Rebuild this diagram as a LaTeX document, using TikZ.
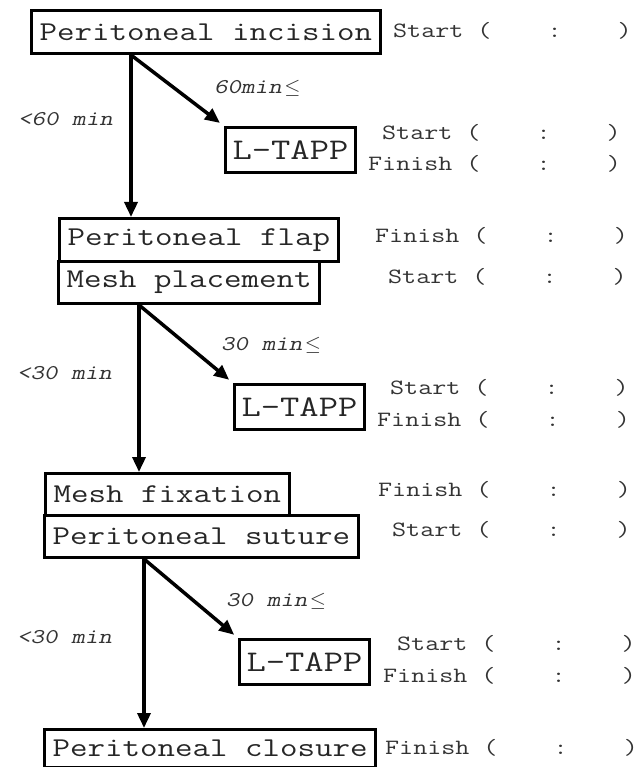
\documentclass[tikz,border=0pt]{standalone}
\usepackage{fontspec}
\newfontfamily\cour[FakeStretch=1.25]{Latin Modern Mono}
\newfontfamily\courobl[FakeStretch=1.25,FakeSlant=0.21]{Latin Modern Mono}
\usetikzlibrary{arrows.meta}
\newcommand{\leqsym}{\kern2.5pt$\leq$}
\begin{document}
\begin{tikzpicture}[x=1pt,y=-1pt,
  stage/.style={draw, line width=3pt, anchor=north west, inner xsep=8pt, inner ysep=0pt,
    minimum height=43pt, font=\cour\fontsize{27.2}{27.2}\selectfont, text=black!85},
  ltapp/.style={stage, minimum height=45pt, inner xsep=7pt, font=\cour\fontsize{30}{30}\selectfont},
  timelbl/.style={anchor=base west, inner sep=0pt, font=\cour\fontsize{21.8}{21.8}\selectfont, text=black!80},
  durlbl/.style={anchor=base west, inner sep=0pt, font=\courobl\fontsize{21}{21}\selectfont, text=black!80},
  arr/.style={line width=3.5pt, -{Triangle[length=15pt,width=13pt]}}
]
\useasboundingbox (0,0) rectangle (642,767);

% boxes
\node[stage] (inc) at (30,9) {Peritoneal incision};
\node[ltapp] (t1) at (224,126) {L-TAPP};
\node[stage] (flap) at (58,217) {Peritoneal flap};
\node[stage, minimum height=42pt] (place) at (57,260) {Mesh placement};
\node[ltapp] (t2) at (233,383) {L-TAPP};
\node[stage, minimum height=42pt] (fix) at (44,472) {Mesh fixation};
\node[stage, minimum height=42pt] (sut) at (43,514) {Peritoneal suture};
\node[ltapp] (t3) at (238,638) {L-TAPP};
\node[stage, minimum height=38pt] (clo) at (43,728) {Peritoneal closure};

% time labels
\node[timelbl] (r1) at (393,38) {Start~(~~~~:~~~~)};
\node[timelbl] (r2) at (382,140) {Start~(~~~~:~~~~)};
\node[timelbl] (r3) at (368,171) {Finish~(~~~~:~~~~)};
\node[timelbl] (r4) at (375,242) {Finish~(~~~~:~~~~)};
\node[timelbl] (r5) at (388,283) {Start~(~~~~:~~~~)};
\node[timelbl] (r6) at (390,394) {Start~(~~~~:~~~~)};
\node[timelbl] (r7) at (377,426) {Finish~(~~~~:~~~~)};
\node[timelbl] (r8) at (378,496) {Finish~(~~~~:~~~~)};
\node[timelbl] (r9) at (392,536) {Start~(~~~~:~~~~)};
\node[timelbl] (r10) at (397,650) {Start~(~~~~:~~~~)};
\node[timelbl] (r11) at (383,682) {Finish~(~~~~:~~~~)};
\node[timelbl] (r12) at (385,754) {Finish~(~~~~:~~~~)};

% duration labels
\node[durlbl] (d1) at (18,126) {<60 min};
\node[durlbl] (d2) at (214,94) {60min\leqsym};
\node[durlbl] (d3) at (17,379) {<30 min};
\node[durlbl] (d4) at (221,350) {30 min\leqsym};
\node[durlbl] (d5) at (17,643) {<30 min};
\node[durlbl] (d6) at (226,606) {30 min\leqsym};

% connectors
\coordinate (s1) at ([xshift=101pt]inc.south west);
\coordinate (s2) at ([xshift=82pt]place.south west);
\coordinate (s3) at ([xshift=101pt]sut.south west);
\draw[arr] (s1) -- (s1 |- flap.north);
\draw[arr, shorten >=5pt] (s1) -- (t1.north west);
\draw[arr] (s2) -- (s2 |- fix.north);
\draw[arr, shorten >=5pt] (s2) -- (t2.north west);
\draw[arr] (s3) -- (s3 |- clo.north);
\draw[arr, shorten >=5pt] (s3) -- (t3.north west);
\end{tikzpicture}
\end{document}
